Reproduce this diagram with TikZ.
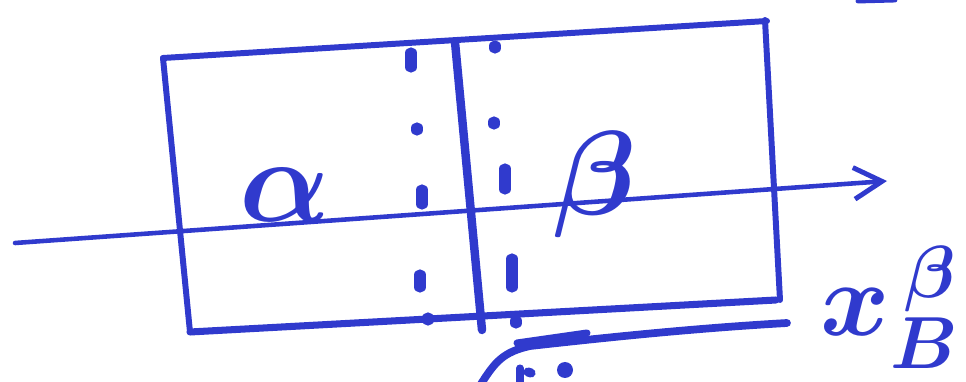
\RequirePackage{fix-cm}
\documentclass[tikz,border=0pt]{standalone}
\usetikzlibrary{arrows.meta}
\definecolor{tinta}{RGB}{48,58,205}
\begin{document}
\begin{tikzpicture}[x=0.01cm, y=-0.01cm, color=tinta, line width=1.7pt, line cap=round, line join=round]
  \useasboundingbox (0,0) rectangle (966,382);
  % el recipiente, trazado a mano
  \draw (163,58) -- (767,21);
  \draw (765,20) -- (780,300);
  \draw[line width=2pt] (190,332) -- (776,300);
  \draw (163,58) -- (190,332);
  % la pared que separa las dos fases
  \draw[line width=2.4pt] (455,42) -- (482,330);
  % las lineas de puntos a los dos lados de la pared
  \foreach \x/\y/\h in {411/60/7, 417/129/1, 422/197/7, 420/281/6, 428/319/1,
                        495/47/1, 494/123/1, 505/179/10, 512/273/14, 516/322/1} {
    \draw[line width=3.2pt] (\x,\y-\h) -- (\x,\y+\h);
  }
  % el eje x, con su punta abierta
  \draw[line width=1.3pt, -{Straight Barb[length=8pt,width=9pt,line width=1.4pt]}] (15,243) -- (887,181);
  % las letras de las fases y la fraccion molar
  \node[font=\boldmath\fontsize{34}{40}\selectfont] (alfa) at (285,195) {$\alpha$};
  \node[font=\boldmath\fontsize{34}{40}\selectfont] (beta) at (595,185) {$\beta$};
  \node[font=\boldmath\fontsize{30}{36}\selectfont, anchor=base west, inner sep=0pt] (xbeta) at (818,336) {$x_B^{\,\beta}$};
  % el trazo de abajo, cortado por el borde
  \draw[line width=2.2pt] (481,384) .. controls (495,362) and (503,352) .. (530,346)
    .. controls (620,336) and (700,328) .. (787,323);
  \draw[line width=2pt] (517,343) -- (587,333);
  \draw[line width=2pt] (520,368) -- (520,384);
  \draw[line width=2.6pt] (528,372) -- (531,373);
  \fill (565,370) circle (8);
  % la mancha de arriba a la derecha
  \draw[line width=1.4pt] (858,1) -- (895,0);
\end{tikzpicture}
\end{document}
